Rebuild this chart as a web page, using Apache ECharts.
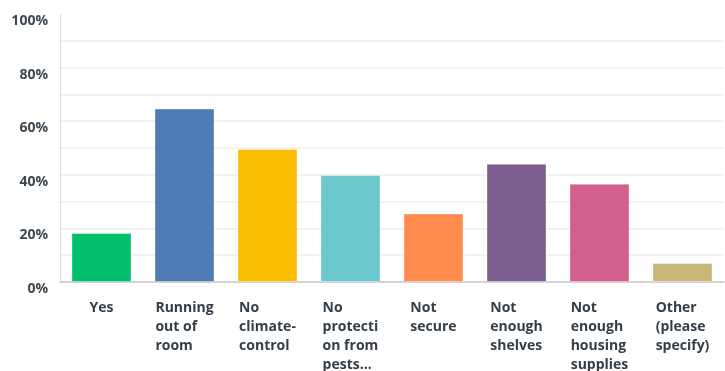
<!DOCTYPE html>
<html><head><meta charset="utf-8">
<script src="https://cdn.jsdelivr.net/npm/echarts@6/dist/echarts.min.js"></script>
<style>html,body{margin:0;padding:0;background:#fff}#c{width:725px;height:371px}</style>
</head><body><div id="c"></div>
<script>
const categories = ["Yes", "Running\nout of\nroom", "No\nclimate-\ncontrol", "No\nprotecti\non from\npests...", "Not\nsecure", "Not\nenough\nshelves", "Not\nenough\nhousing\nsupplies", "Other\n(please\nspecify)"];
const values = [18.3, 64.7, 49.6, 39.9, 25.6, 44.1, 36.7, 7.1];
const colors = ["#00BF6F", "#507CB6", "#F9BE00", "#6BC8CD", "#FF8B4F", "#7D5E90", "#D25F90", "#C9B779"];
const yTicks = [0, 20, 40, 60, 80, 100];

const chart = echarts.init(document.getElementById('c'));
chart.setOption({
  animation: false,
  grid: {left: 60, right: 1, top: 14, bottom: 89, containLabel: false, outerBoundsMode: 'none'},
  xAxis: {
    type: 'category', data: categories,
    axisLine: {lineStyle: {color: '#c9c9c9', width: 1.5}},
    axisTick: {show: false},
    axisLabel: {
      interval: 0, margin: 17,
      formatter: v => v.split('\n').map(s => '{l|' + s + '}').join('\n'),
      rich: {l: {align: 'left', fontFamily: 'Open Sans', fontWeight: 'bold', fontSize: 14, color: '#333e48', lineHeight: 19}}
    }
  },
  yAxis: {
    type: 'value', min: 0, max: 100, interval: 10,
    axisLine: {show: true, lineStyle: {color: '#dcdcdc', width: 1}},
    axisTick: {show: false},
    splitLine: {showMaxLine: false, lineStyle: {color: '#efefef', width: 1.5}},
    axisLabel: {
      margin: 12, lineHeight: 14,
      fontFamily: 'Open Sans', fontWeight: 'bold', fontSize: 14, color: '#3f4850',
      formatter: v => yTicks.includes(v) ? '\n' + v + '%' : ''
    }
  },
  series: [{
    type: 'bar', barWidth: 60,
    data: values.map((v, i) => ({value: v, itemStyle: {color: colors[i], borderColor: 'rgba(255,255,255,0.35)', borderWidth: 1}}))
  }]
});
</script></body></html>
